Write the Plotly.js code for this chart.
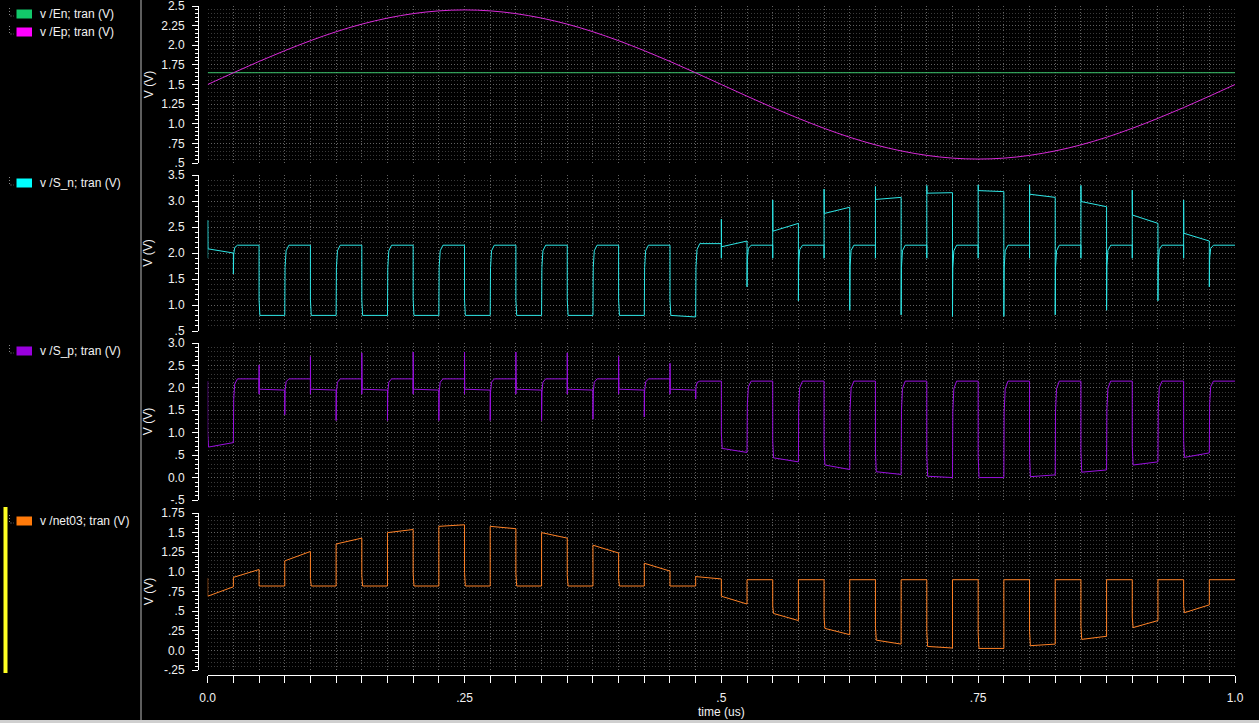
<!DOCTYPE html>
<html><head><meta charset="utf-8">
<script src="https://cdn.plot.ly/plotly-3.0.1.min.js"></script>
<style>html,body{margin:0;padding:0;background:#000;overflow:hidden}#chart{width:1259px;height:723px}</style>
</head><body><div id="chart"></div>
<script>
// ---------- data ----------
// Sine input Ep (V) sampled every 0.025 us
const epTime = [0,0.025,0.05,0.075,0.1,0.125,0.15,0.175,0.2,0.225,0.25,0.275,0.3,0.325,0.35,0.375,0.4,0.425,0.45,0.475,0.5,0.525,0.55,0.575,0.6,0.625,0.65,0.675,0.7,0.725,0.75,0.775,0.8,0.825,0.85,0.875,0.9,0.925,0.95,0.975,1.0];
const epVolt = [1.5,1.649,1.794,1.931,2.058,2.172,2.269,2.346,2.403,2.438,2.45,2.438,2.403,2.346,2.269,2.172,2.058,1.931,1.794,1.649,1.5,1.351,1.206,1.069,0.942,0.828,0.731,0.654,0.597,0.562,0.55,0.562,0.597,0.654,0.731,0.828,0.942,1.069,1.206,1.351,1.5];
const enTime = [0, 1.0];
const enVolt = [1.65, 1.65];

// half-period boundaries (us)
const edges = [0,0.025,0.05,0.075,0.1,0.125,0.15,0.175,0.2,0.225,0.25,0.275,0.3,0.325,0.35,0.375,0.4,0.425,0.45,0.475,0.5,0.525,0.55,0.575,0.6,0.625,0.65,0.675,0.7,0.725,0.75,0.775,0.8,0.825,0.85,0.875,0.9,0.925,0.95,0.975,1.0];

// S_n: level at start / end of each half period, spike at its leading edge, value touched just before
const snStart = [2.08,2.15,0.8,2.15,0.8,2.15,0.8,2.15,0.8,2.15,0.8,2.15,0.8,2.15,0.8,2.15,0.8,2.15,0.8,2.18,
                 2.12,2.15,2.42,2.15,2.76,2.15,3.03,2.15,3.15,2.15,3.2,2.15,3.13,2.15,2.99,2.15,2.73,2.15,2.38,2.15];
const snEnd   = [2.0,2.15,0.8,2.15,0.8,2.15,0.8,2.15,0.8,2.15,0.8,2.15,0.8,2.15,0.8,2.15,0.8,2.15,0.77,2.18,
                 2.23,2.15,2.57,2.15,2.88,2.15,3.07,2.15,3.16,2.15,3.18,2.15,3.07,2.15,2.89,2.15,2.57,2.15,2.23,2.15];
const snSpike = [2.63,1.6,null,null,null,null,null,null,null,null,null,null,null,null,null,null,null,null,null,null,
                 2.65,1.35,3.02,1.08,3.23,0.9,3.28,0.81,3.3,0.78,3.31,0.78,3.31,0.81,3.3,0.9,3.21,1.08,3.02,1.35];
const snPre   = [1.9,null,null,null,null,null,null,null,null,null,null,null,null,null,null,null,null,null,null,null,
                 1.9,null,1.9,null,1.9,null,1.9,null,1.9,null,1.9,null,1.9,null,1.9,null,1.9,null,1.9,null];

// S_p
const spStart = [0.68,2.2,1.97,2.2,1.97,2.2,1.97,2.2,1.97,2.2,1.97,2.2,1.97,2.2,1.97,2.2,1.97,2.2,1.97,2.15,
                 0.65,2.15,0.44,2.15,0.28,2.15,0.13,2.15,0.03,2.15,0.0,2.15,0.02,2.15,0.12,2.15,0.28,2.15,0.45,2.15];
const spEnd   = [0.78,2.2,1.95,2.2,1.95,2.2,1.95,2.2,1.95,2.2,1.95,2.2,1.95,2.2,1.95,2.2,1.95,2.2,1.95,2.15,
                 0.56,2.15,0.35,2.15,0.18,2.15,0.07,2.15,0.0,2.15,0.0,2.15,0.06,2.15,0.17,2.15,0.35,2.15,0.55,2.15];
const spSpike = [null,null,2.51,1.4,2.7,1.27,2.78,1.27,2.8,1.27,2.8,1.27,2.8,1.27,2.78,1.3,2.7,1.35,2.55,1.75,
                 null,null,null,null,null,null,null,null,null,null,null,null,null,null,null,null,null,null,null,null];
const spPre   = [2.15,null,1.86,null,1.86,null,1.86,null,1.86,null,1.86,null,1.86,null,1.86,null,1.86,null,1.86,null,
                 null,null,null,null,null,null,null,null,null,null,null,null,null,null,null,null,null,null,null,null];

// net03
const n3Start = [0.69,0.93,0.82,1.14,0.82,1.355,0.82,1.5,0.82,1.58,0.82,1.58,0.82,1.5,0.82,1.34,0.82,1.11,0.82,0.94,
                 0.69,0.9,0.47,0.9,0.28,0.9,0.13,0.9,0.05,0.9,0.025,0.9,0.06,0.9,0.14,0.9,0.29,0.9,0.48,0.9];
const n3End   = [0.81,1.03,0.82,1.26,0.82,1.43,0.82,1.54,0.82,1.6,0.82,1.55,0.82,1.43,0.82,1.24,0.82,1.01,0.82,0.91,
                 0.59,0.9,0.38,0.9,0.2,0.9,0.08,0.9,0.03,0.9,0.025,0.9,0.08,0.9,0.18,0.9,0.38,0.9,0.58,0.9];
const n3Spike = new Array(40).fill(null);
const n3Pre   = [0.92].concat(new Array(39).fill(null));

// axis ticks
const y1Vals = [0.5,0.75,1.0,1.25,1.5,1.75,2.0,2.25,2.5];
const y1Text = [".5",".75","1.0","1.25","1.5","1.75","2.0","2.25","2.5"];
const y2Vals = [0.5,1.0,1.5,2.0,2.5,3.0,3.5];
const y2Text = [".5","1.0","1.5","2.0","2.5","3.0","3.5"];
const y3Vals = [-0.5,0.0,0.5,1.0,1.5,2.0,2.5,3.0];
const y3Text = ["-.5","0.0",".5","1.0","1.5","2.0","2.5","3.0"];
const y4Vals = [-0.25,0.0,0.25,0.5,0.75,1.0,1.25,1.5,1.75];
const y4Text = ["-.25","0.0",".25",".5",".75","1.0","1.25","1.5","1.75"];
const xVals = [0,0.25,0.5,0.75,1.0];
const xText = ["0.0",".25",".5",".75","1.0"];

const legendNames = ["v /En; tran (V)","v /Ep; tran (V)","v /S_n; tran (V)","v /S_p; tran (V)","v /net03; tran (V)"];

// ---------- build waveforms ----------
function buildWave(start, end, spike, pre, rounded) {
  const t = [], v = [];
  for (let i = 0; i < start.length; i++) {
    const a = edges[i], b = edges[i + 1];
    let from = i > 0 ? end[i - 1] : null;
    if (pre[i] !== null) { t.push(a); v.push(pre[i]); from = pre[i]; }
    let hasSpike = false;
    if (spike[i] !== null) { t.push(a); v.push(spike[i]); from = spike[i]; hasSpike = true; }
    const s = start[i];
    if (from === null) { t.push(a); v.push(s); }
    else {
      const d = s - from;
      if (d > 0.3 && rounded) {
        t.push(a + 0.0003); v.push(from + 0.68 * d);
        t.push(a + 0.0013); v.push(s - 0.08 * d);
        t.push(a + 0.004); v.push(s);
      } else if (hasSpike) {
        t.push(a + 0.0002); v.push(s);
      } else if (d < -0.3) {
        t.push(a); v.push(s - 0.22 * d);
        t.push(a + 0.0008); v.push(s);
      } else {
        t.push(a); v.push(s);
      }
    }
    t.push(b); v.push(end[i]);
  }
  return {t, v};
}
const sn = buildWave(snStart, snEnd, snSpike, snPre, true);
const sp = buildWave(spStart, spEnd, spSpike, spPre, true);
const n3 = buildWave(n3Start, n3End, n3Spike, n3Pre, false);

const colors = {en:'#3cc46c', ep:'#d82ad8', sn:'#2ee6e6', sp:'#9a10e0', n3:'#ff8226'};
const swatch = ['#12c86a','#ff00ff','#00ffff','#9900dd','#ff7a0a'];

const traces = [
  {x: enTime, y: enVolt, yaxis:'y', name: legendNames[0], mode:'lines', line:{color:colors.en, width:1}},
  {x: epTime, y: epVolt, yaxis:'y', name: legendNames[1], mode:'lines', line:{color:colors.ep, width:1, shape:'spline'}},
  {x: sn.t, y: sn.v, yaxis:'y2', name: legendNames[2], mode:'lines', line:{color:colors.sn, width:1}},
  {x: sp.t, y: sp.v, yaxis:'y3', name: legendNames[3], mode:'lines', line:{color:colors.sp, width:1}},
  {x: n3.t, y: n3.v, yaxis:'y4', name: legendNames[4], mode:'lines', line:{color:colors.n3, width:1}}
];
traces.forEach(tr => { tr.xaxis = 'x'; tr.showlegend = false; tr.hoverinfo = 'skip'; });

// ---------- layout ----------
const PW = 1235, TOP = 6, BOT = 675, PH = BOT - TOP;
const pxX = p => p / PW;
const pxY = p => (BOT - p) / PH;
const font = 'Liberation Sans, Arial, sans-serif';

function yAxis(dom, rng, vals, text, minorStep, standoff) {
  return {
    domain: [pxY(dom[1]), pxY(dom[0])], range: rng, anchor: 'free', position: pxX(198),
    tickmode: 'array', tickvals: vals, ticktext: text,
    ticks: 'outside', ticklen: 6, tickcolor: '#ffffff', tickwidth: 1,
    showline: true, linecolor: '#ffffff', linewidth: 1,
    showgrid: true, gridcolor: '#626262', griddash: '1px,2px', gridwidth: 1,
    zeroline: false, ticklabelstandoff: 5, ticklabeloverflow: 'allow',
    tickfont: {family: font, size: 12, color: '#f2f2f2'},
    minor: {dtick: minorStep, tick0: 0, ticks: 'outside', ticklen: 3, tickcolor: '#ffffff',
            showgrid: true, gridcolor: '#3a3a3a', griddash: '1px,2px', gridwidth: 1},
    title: {text: 'V (V)', font: {family: font, size: 12, color: '#f2f2f2'}, standoff: standoff},
    fixedrange: true
  };
}

const shapes = [
  {type:'line', xref:'paper', yref:'paper', x0:pxX(141), x1:pxX(141), y0:pxY(0), y1:pxY(723), line:{color:'#5e5e5e', width:2}},
  {type:'rect', xref:'paper', yref:'paper', x0:pxX(3.5), x1:pxX(7.5), y0:pxY(507), y1:pxY(673), fillcolor:'#ffff22', line:{width:0}},
  {type:'rect', xref:'paper', yref:'paper', x0:pxX(0), x1:pxX(1259), y0:pxY(720), y1:pxY(723), fillcolor:'#cfcfcf', line:{width:0}}
];
const annotations = [];
const legendY = [14, 32, 183, 351, 521];
legendY.forEach((yc, k) => {
  shapes.push({type:'rect', xref:'paper', yref:'paper', x0:pxX(16.5), x1:pxX(32), y0:pxY(yc - 4.5), y1:pxY(yc + 4.5),
               fillcolor: swatch[k], line:{width:0}});
  shapes.push({type:'path', xref:'paper', yref:'paper',
               path:`M ${pxX(9.5)} ${pxY(yc - 6)} L ${pxX(9.5)} ${pxY(yc + 2)} L ${pxX(14)} ${pxY(yc + 2)}`,
               line:{color:'#8a8a8a', width:1, dash:'1px,2px'}});
  annotations.push({xref:'paper', yref:'paper', x: pxX(38), y: pxY(yc), xanchor:'left', yanchor:'middle',
                    text: legendNames[k], showarrow:false, font:{family: font, size: 12, color:'#f2f2f2'}});
});

const layout = {
  width: 1259, height: 723,
  margin: {l: 0, r: 24, t: TOP, b: 723 - BOT, pad: 0},
  paper_bgcolor: '#000000', plot_bgcolor: '#000000',
  showlegend: false,
  xaxis: {
    domain: [pxX(207.7), 1], range: [0, 1], anchor: 'free', position: 0,
    tickmode: 'array', tickvals: xVals, ticktext: xText,
    ticks: 'outside', ticklen: 7, tickcolor: '#ffffff', showline: true, linecolor: '#ffffff', linewidth: 1,
    showgrid: true, gridcolor: '#626262', griddash: '1px,2px', zeroline: false, ticklabelstandoff: 5,
    ticklabeloverflow: 'allow',
    tickfont: {family: font, size: 12, color: '#f2f2f2'},
    minor: {dtick: 0.025, tick0: 0, ticks: 'outside', ticklen: 7, tickcolor: '#ffffff',
            showgrid: true, gridcolor: '#626262', griddash: '1px,2px'},
    title: {text: 'time (us)', font: {family: font, size: 12, color: '#f2f2f2'}, standoff: 3},
    fixedrange: true
  },
  yaxis:  yAxis([6, 163],   [0.5, 2.5],  y1Vals, y1Text, 0.05, 4),
  yaxis2: yAxis([175, 331], [0.5, 3.5],  y2Vals, y2Text, 0.1, 11),
  yaxis3: yAxis([343, 500], [-0.5, 3.0], y3Vals, y3Text, 0.1, 11),
  yaxis4: yAxis([513, 670], [-0.25, 1.75], y4Vals, y4Text, 0.05, 4),
  shapes: shapes, annotations: annotations
};

Plotly.newPlot('chart', traces, layout, {displayModeBar: false, staticPlot: true});
</script></body></html>
